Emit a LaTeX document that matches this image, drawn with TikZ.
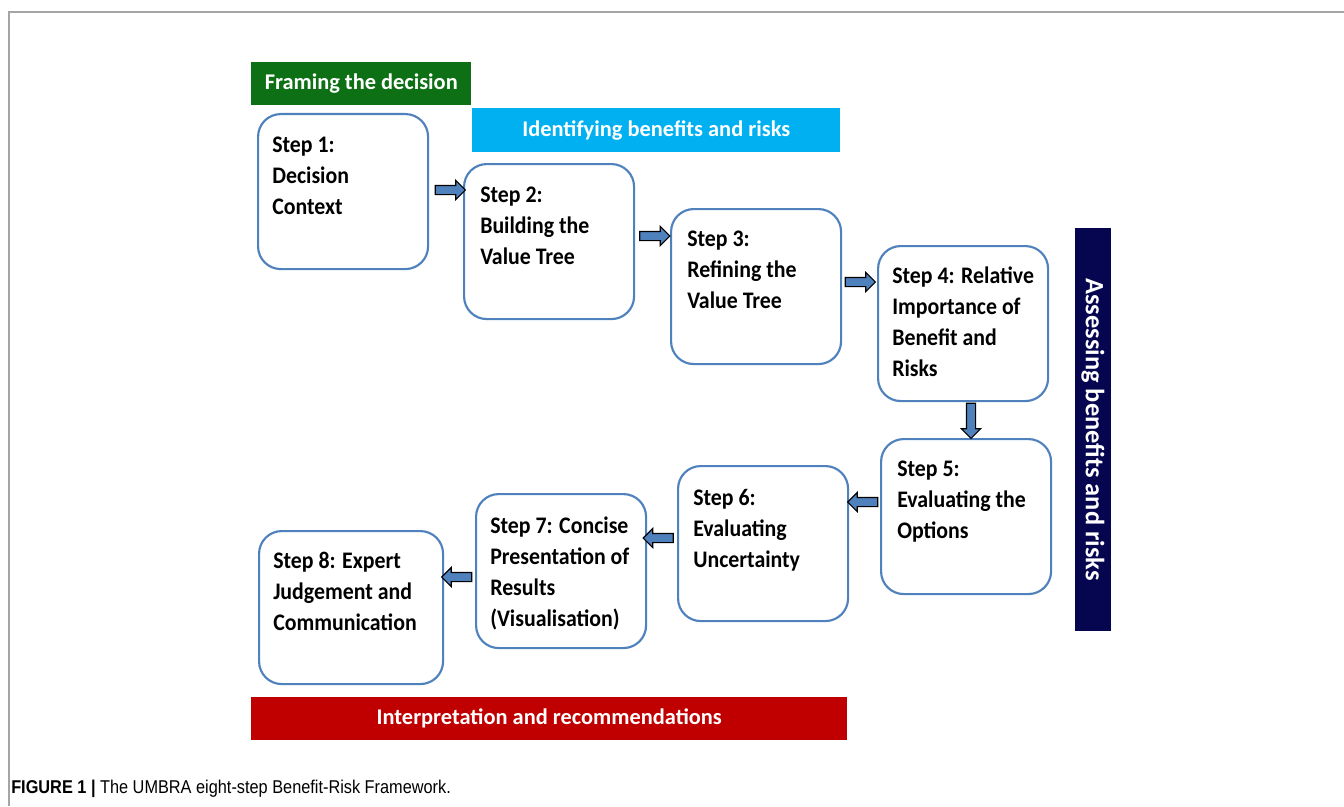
\documentclass[tikz,border=0pt]{standalone}
\usepackage{fontspec}
\setmainfont{Carlito}
\newfontfamily\boxfont{Carlito}[FakeStretch=0.92]
\newfontfamily\capfont{Liberation Sans}[FakeStretch=0.88]
\usetikzlibrary{shapes.arrows,calc}
\definecolor{boxblue}{RGB}{79,129,189}
\definecolor{hdgreen}{RGB}{14,112,20}
\definecolor{hdcyan}{RGB}{0,176,240}
\definecolor{hdnavy}{RGB}{5,5,80}
\definecolor{hdred}{RGB}{192,0,0}
\definecolor{framegray}{RGB}{165,165,165}
\begin{document}
\begin{tikzpicture}[x=0.75pt,y=-0.75pt,
 stepbox/.style={draw=boxblue, line width=1.6pt, rounded corners=17pt, fill=white,
   minimum width=127.5pt, minimum height=116.25pt, inner sep=0pt, anchor=north west},
 steptext/.style={anchor=base west, align=left, inner sep=0pt,
   font=\boxfont\fontsize{17.8}{23.25}\selectfont\bfseries},
 header/.style={inner sep=0pt, text=white, font=\fontsize{16.8}{20}\selectfont\bfseries},
 blockarrow/.style={single arrow, draw=black, line width=0.8pt, fill=boxblue,
   minimum height=22.5pt, single arrow head extend=3.75pt,
   single arrow head indent=0pt, inner sep=3pt}
]
\useasboundingbox (0,0) rectangle (1344,806);
\fill[white] (0,0) rectangle (1344,806);
\draw[framegray, line width=1.2pt] (9,806) -- (9,12) -- (1344,12);

% header bars
\node[header, fill=hdgreen, anchor=north west, minimum width=165pt, minimum height=32.25pt] (hframe) at (251,62) {Framing the decision};
\node[header, fill=hdcyan, anchor=north west, minimum width=276pt, minimum height=33pt] (hident) at (472,108) {Identifying benefits and risks};
\node[header, fill=hdred, anchor=north west, minimum width=447pt, minimum height=32.25pt] (hinterp) at (251,697) {Interpretation and recommendations};
\node[header, fill=hdnavy, rotate=-90, minimum width=302.25pt, minimum height=27pt, font=\fontsize{19.8}{21}\selectfont\bfseries] (hassess) at (1093,429.5) {Assessing benefits and risks};

% step boxes
\node[stepbox] (s1) at (257,113) {};
\node[stepbox] (s2) at (463,163) {};
\node[stepbox] (s3) at (670,208) {};
\node[stepbox] (s4) at (877,245) {};
\node[stepbox] (s5) at (880,438) {};
\node[stepbox] (s6) at (677,465) {};
\node[stepbox, minimum height=115.5pt] (s7) at (475,493) {};
\node[stepbox, minimum width=138pt, minimum height=114.75pt] (s8) at (258,530) {};

% step texts (anchor = baseline of the last line)
\node[steptext] (t1) at ($(s1.north west)+(15,101)$) {Step 1:\\Decision\\Context};
\node[steptext] (t2) at ($(s2.north west)+(17,101)$) {Step 2:\\Building the\\Value Tree};
\node[steptext] (t3) at ($(s3.north west)+(17,100)$) {Step 3:\\Refining the\\Value Tree};
\node[steptext] (t4) at ($(s4.north west)+(15,131)$) {Step 4: Relative\\Importance of\\Benefit and\\Risks};
\node[steptext] (t5) at ($(s5.north west)+(17,100)$) {Step 5:\\Evaluating the\\Options};
\node[steptext] (t6) at ($(s6.north west)+(16,102)$) {Step 6:\\Evaluating\\Uncertainty};
\node[steptext] (t7) at ($(s7.north west)+(15,133)$) {Step 7: Concise\\Presentation of\\Results\\(Visualisation)};
\node[steptext] (t8) at ($(s8.north west)+(15,100)$) {Step 8: Expert\\Judgement and\\Communication};

% block arrows
\node[blockarrow] (a12) at (448,190) {};
\node[blockarrow] (a23) at (652.5,236) {};
\node[blockarrow] (a34) at (858,282) {};
\node[blockarrow, minimum height=26.25pt, shape border rotate=270] (a45) at (971,418.5) {};
\node[blockarrow, shape border rotate=180] (a56) at (865,502) {};
\node[blockarrow, shape border rotate=180] (a67) at (660.5,538) {};
\node[blockarrow, shape border rotate=180] (a78) at (459,577) {};

% caption
\node[anchor=base west, inner sep=0pt, font=\capfont\fontsize{13.9}{15}\selectfont] (cap) at (11,793) {\textbf{FIGURE 1 |} The UMBRA eight-step Benefit-Risk Framework.};
\end{tikzpicture}
\end{document}
